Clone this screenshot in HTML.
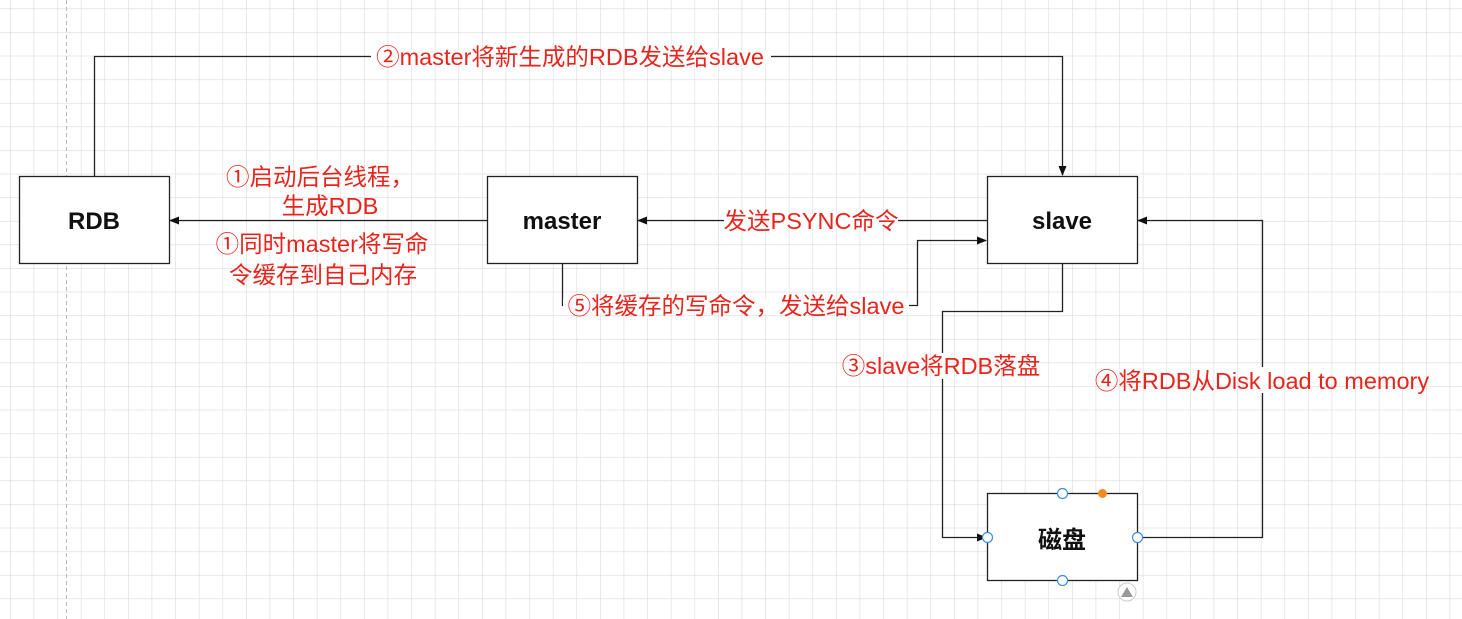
<!DOCTYPE html>
<html><head><meta charset="utf-8"><style>
html,body{margin:0;padding:0;background:#fff;}
svg{display:block;}
.l{font-family:"Liberation Sans","Noto Sans CJK SC",sans-serif;font-size:23.5px;fill:#e8251c;text-anchor:middle;}
.b{font-family:"Liberation Sans","Noto Sans CJK SC",sans-serif;font-size:24px;font-weight:bold;fill:#111;text-anchor:middle;}
</style></head><body>
<svg width="1462" height="619" viewBox="0 0 1462 619" xmlns="http://www.w3.org/2000/svg">
<defs>
<pattern id="g" x="10" y="8.5" width="23.6" height="23.6" patternUnits="userSpaceOnUse">
<path d="M0 0H23.6M0 0V23.6" stroke="#dadada" stroke-width="1.2" fill="none"/>
</pattern>
<marker id="a" markerWidth="10" markerHeight="10" refX="9" refY="5" orient="auto" markerUnits="userSpaceOnUse">
<path d="M0 1L10 5L0 9Z" fill="#111"/>
</marker>
</defs>
<rect width="1462" height="619" fill="url(#g)"/>
<line x1="66.5" y1="0" x2="66.5" y2="619" stroke="#bbb" stroke-dasharray="4,3"/>
<g stroke="#222" stroke-width="1.3" fill="none">
<path d="M94.5 176V56.5H1062.5V175" marker-end="url(#a)"/>
<path d="M487 220.5H170" marker-end="url(#a)"/>
<path d="M987 220.5H638" marker-end="url(#a)"/>
<path d="M562.5 263V305.5H917.5V240.5H986" marker-end="url(#a)"/>
<path d="M1062.5 263V311.5H942.5V537.5H986" marker-end="url(#a)"/>
<path d="M1137 537.5H1262.5V220.5H1138" marker-end="url(#a)"/>
</g>
<g fill="#fff" stroke="#222" stroke-width="1.3">
<rect x="19.5" y="176.5" width="150" height="87"/>
<rect x="487.5" y="176.5" width="150" height="87"/>
<rect x="987.5" y="176.5" width="150" height="87"/>
<rect x="987.5" y="493.5" width="150" height="87"/>
</g>
<text class="b" x="94" y="229">RDB</text>
<text class="b" x="562" y="229">master</text>
<text class="b" x="1062" y="229">slave</text>
<text class="b" x="1062" y="548">磁盘</text>
<g fill="#fff" stroke="#3b8fe6" stroke-width="1.2">
<circle cx="1062.5" cy="493.5" r="5"/><circle cx="1062.5" cy="580.5" r="5"/>
<circle cx="987.5" cy="537.5" r="5"/><circle cx="1137.5" cy="537.5" r="5"/>
</g>
<circle cx="1102.5" cy="493.5" r="4.5" fill="#f58a1f"/>
<circle cx="1127" cy="592" r="9" fill="#fff" stroke="#ccc"/>
<path d="M1121 597L1127 587L1133 597Z" fill="#999"/>
<g fill="#fff">
<rect x="371" y="50" width="400" height="14"/>
<rect x="724" y="214" width="174" height="14"/>
<rect x="563" y="299" width="346" height="14"/>
<rect x="936" y="353" width="12" height="26"/>
<rect x="1256" y="367" width="12" height="26"/>
</g>
<text class="l" x="570" y="65">②master将新生成的RDB发送给slave</text>
<text class="l" x="320" y="185">①启动后台线程，</text>
<text class="l" x="330" y="214">生成RDB</text>
<text class="l" x="322" y="252">①同时master将写命</text>
<text class="l" x="323" y="283">令缓存到自己内存</text>
<text class="l" x="811" y="229">发送PSYNC命令</text>
<text class="l" x="736" y="314">⑤将缓存的写命令，发送给slave</text>
<text class="l" x="941" y="374">③slave将RDB落盘</text>
<text class="l" x="1262" y="389">④将RDB从Disk load to memory</text>
</svg>
</body></html>
